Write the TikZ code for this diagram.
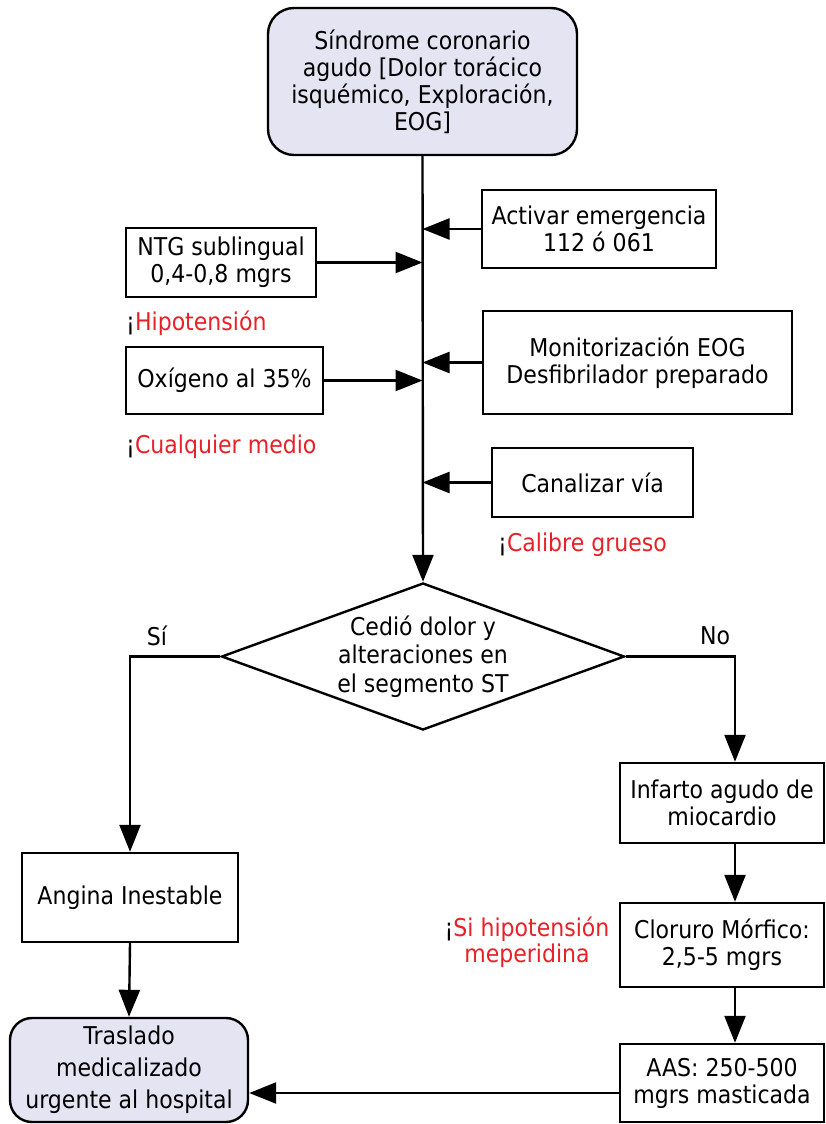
\documentclass[tikz,border=0pt]{standalone}
\usepackage{fontspec}
\setmainfont{DejaVu Sans}[FakeStretch=0.9]
\usetikzlibrary{shapes.geometric,arrows.meta}
\definecolor{lila}{RGB}{228,228,243}
\definecolor{rojo}{RGB}{232,32,40}

\begin{document}
\begin{tikzpicture}[x=1pt,y=-1pt,
    caja/.style ={rectangle, draw, line width=2.4pt, inner sep=0pt, align=center, font=\fontsize{24.5}{27}\selectfont},
    inicio/.style ={caja, rounded corners=26pt, fill=lila},
    decision/.style ={diamond, draw, line width=2.4pt, inner sep=0pt, aspect=2.74, align=center, font=\fontsize{24.5}{28.5}\selectfont},
    aviso/.style ={inner sep=0pt, align=center, text=rojo, font=\fontsize{24.5}{26}\selectfont},
    rama/.style ={inner sep=0pt, font=\fontsize{24.5}{26}\selectfont},
    flecha/.style ={line width=2.4pt, -{Triangle[length=27pt,width=21pt]}}]
   \useasboundingbox (0,0) rectangle (825,1124);
   \node[inicio, minimum width=309pt, minimum height=147pt] (sca) at (422.5,81.5) {Síndrome coronario\\agudo [Dolor torácico\\isquémico, Exploración,\\EOG]};
   \node[caja, minimum width=234pt, minimum height=78pt] (activar) at (599,229) {Activar emergencia\\112 ó 061};
   \node[caja, minimum width=190pt, minimum height=69pt] (ntg) at (221,262.5) {NTG sublingual\\0,4-0,8 mgrs};
   \node[aviso, anchor=west] (hipo) at (126,323) {\textcolor{black}{¡}Hipotensión};
   \node[caja, minimum width=197pt, minimum height=67pt] (oxigeno) at (224.5,380.5) {Oxígeno al 35\%};
   \node[aviso, anchor=west] (medio) at (126,447) {\textcolor{black}{¡}Cualquier medio};
   \node[caja, minimum width=309pt, minimum height=103pt] (monitor) at (637.5,362.5) {Monitorización EOG\\Desfibrilador preparado};
   \node[caja, minimum width=201pt, minimum height=69pt] (via) at (592.5,482.5) {Canalizar vía};
   \node[aviso, anchor=west] (calibre) at (498,545) {\textcolor{black}{¡}Calibre grueso};
   \node[decision, minimum width=403pt, minimum height=147pt] (cedio) at (423,656.5) {Cedió dolor y\\alteraciones en\\el segmento ST};
   \node[rama] (si) at (157,636) {Sí};
   \node[rama] (no) at (715,636) {No};
   \node[caja, minimum width=204pt, minimum height=80pt] (infarto) at (722,803) {Infarto agudo de\\miocardio};
   \node[caja, minimum width=216pt, minimum height=89pt] (angina) at (130,897.5) {Angina Inestable};
   \node[caja, minimum width=204pt, minimum height=84pt] (cloruro) at (722,945) {Cloruro Mórfico:\\2,5-5 mgrs};
   \node[aviso] (meperidina) at (527,942) {\textcolor{black}{¡}Si hipotensión\\meperidina};
   \node[caja, minimum width=204pt, minimum height=78pt] (aas) at (722,1083) {AAS: 250-500\\mgrs masticada};
   \node[inicio, rounded corners=22pt, minimum width=238pt, minimum height=104pt, font=\fontsize{24.5}{32}\selectfont] (traslado) at (129,1070) {Traslado\\medicalizado\\urgente al hospital};
   \draw[flecha] (sca.south) -- (cedio.north);
   \draw[flecha] (activar.west) -- (activar.west -| sca.south);
   \draw[flecha] (ntg.east) -- (ntg.east -| sca.south);
   \draw[flecha] (oxigeno.east) -- (oxigeno.east -| sca.south);
   \draw[flecha] (monitor.west) -- (monitor.west -| sca.south);
   \draw[flecha] (via.west) -- (via.west -| sca.south);
   \draw[flecha] (cedio.west) -| (angina.north);
   \draw[flecha] (cedio.east) -| ([xshift=13pt]infarto.north);
   \draw[flecha] ([xshift=13pt]infarto.south) -- ([xshift=13pt]cloruro.north);
   \draw[flecha] ([xshift=13pt]cloruro.south) -- ([xshift=13pt]aas.north);
   \draw[flecha] (angina.south) -- (traslado.north);
   \draw[flecha] ([yshift=-10pt]aas.west) -- ([yshift=-10pt]aas.west -| traslado.east);
\end{tikzpicture}
\end{document}
